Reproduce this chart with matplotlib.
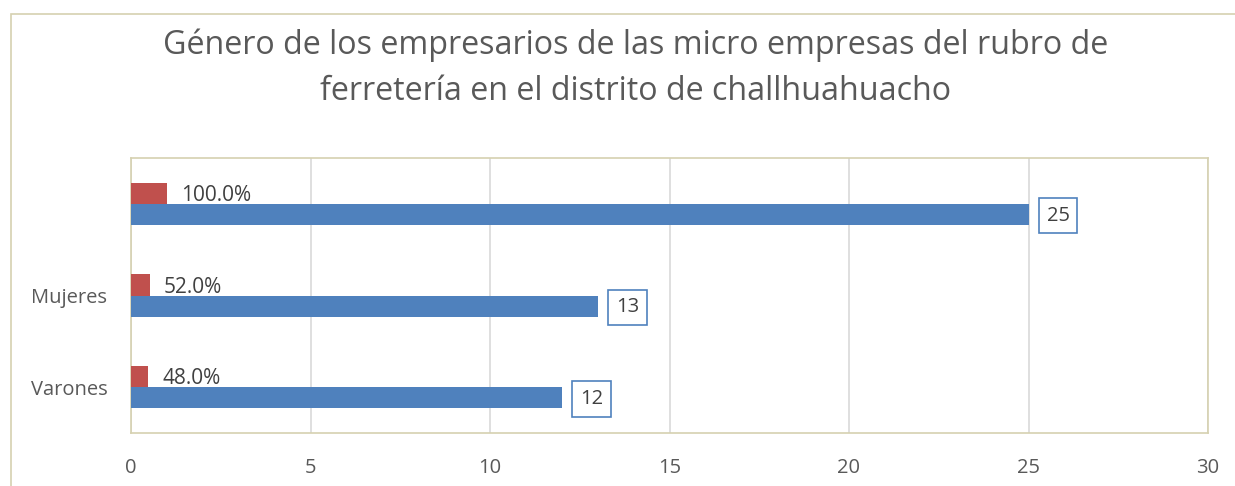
import matplotlib
matplotlib.use("Agg")
import matplotlib.pyplot as plt
import numpy as np
from matplotlib.patches import Rectangle

categories = ["Varones", "Mujeres", ""]
frecuencia = [12, 13, 25]
porcentaje = [0.48, 0.52, 1.00]
pct_labels = ["48.0%", "52.0%", "100.0%"]
title = "Género de los empresarios de las micro empresas del rubro de\nferretería en el distrito de challhuahuacho"

plt.rcParams['font.family'] = ['Open Sans', 'DejaVu Sans']
blue = "#4f81bd"
red = "#c0504d"
txt = "#595959"
tan = "#d6d1b0"

fig = plt.figure(figsize=(12.35, 4.86), dpi=100)
# outer chart border
fig.patches.append(Rectangle((11/1235, -0.1), 1.2, (486-14)/486 + 0.1, transform=fig.transFigure,
                             fill=False, edgecolor=tan, linewidth=1.2))
ax = fig.add_axes([131/1235, (486-433)/486, (1208-131)/1235, (433-158)/486])

y = np.arange(len(categories))
h = 0.23
ax.barh(y - h/2, frecuencia, height=h, color=blue, zorder=3)
ax.barh(y + h/2, porcentaje, height=h, color=red, zorder=3)

for yi, v in zip(y, frecuencia):
    ax.annotate(str(v), (v, yi - h/2), xytext=(13, -1), textcoords="offset points",
                va="center", ha="left", fontsize=14.5, color="#404040",
                bbox=dict(boxstyle="square,pad=0.38", fc="white", ec=blue, lw=1.2), zorder=4)
for yi, v, lab in zip(y, porcentaje, pct_labels):
    ax.annotate(lab, (v, yi + h/2), xytext=(10, -1.5), textcoords="offset points",
                va="center", ha="left", fontsize=15, color="#404040", zorder=4)

ax.set_xlim(0, 30)
ax.set_ylim(-0.5, 2.5)
ax.set_xticks(np.arange(0, 31, 5))
ax.set_yticks(y)
ax.set_yticklabels(categories)
ax.tick_params(axis='both', length=0, labelsize=14.5, labelcolor=txt)
ax.tick_params(axis='x', pad=18)
ax.tick_params(axis='y', pad=17)
ax.grid(axis='x', color="#d9d9d9", linewidth=1.2, zorder=0)
for s in ax.spines.values():
    s.set_color(tan)
    s.set_linewidth(1.2)

fig.text(636/1235, 1 - 68/486, title, ha="center", va="center", fontsize=23.2,
         color=txt, linespacing=1.52)

fig.savefig("out.png", dpi=100)
